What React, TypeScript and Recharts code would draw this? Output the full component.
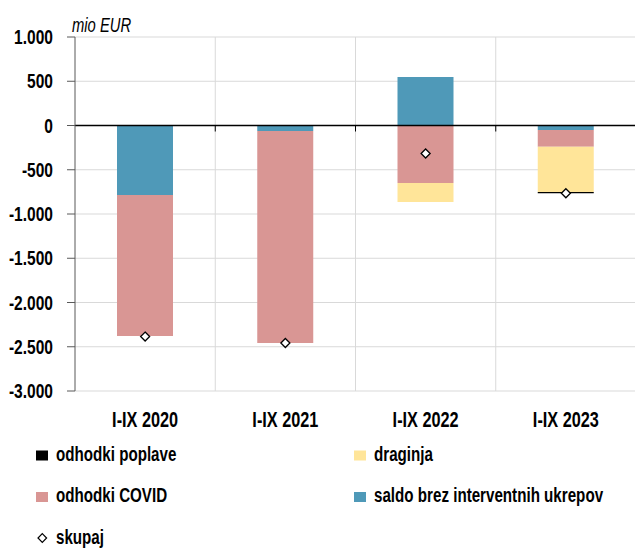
import React from 'react';
import { ComposedChart, Bar, Scatter, XAxis, YAxis, CartesianGrid, ReferenceLine } from 'recharts';

const categories = ['I-IX 2020', 'I-IX 2021', 'I-IX 2022', 'I-IX 2023'];
const saldo = [-785, -62, 548, -51];
const covid = [-1594, -2396, -650, -189];
const draginja = [0, 0, -214, -511];
const poplave = [0, 0, 0, -15];
const skupaj = [-2385, -2458, -316, -766];
const yTicks = [1000, 500, 0, -500, -1000, -1500, -2000, -2500, -3000];

const data = categories.map((name, i) => ({
  name,
  saldo: saldo[i],
  covid: covid[i],
  draginja: draginja[i],
  poplave: poplave[i],
  skupaj: skupaj[i],
}));

const FONT = '"Liberation Sans", Arial, sans-serif';
const SX = 0.74; // narrow the glyphs to look condensed

const formatTick = (v: number) => {
  const abs = Math.abs(v);
  const s = abs >= 1000 ? `${Math.floor(abs / 1000)}.${String(abs % 1000).padStart(3, '0')}` : String(abs);
  return v < 0 ? `-${s}` : s;
};

const NarrowText = ({ x, y, anchor = 'start', size = 21, italic = false, bold = true, children }: any) => (
  <g transform={`translate(${x},${y})`}>
    <text
      transform={`scale(${SX},1)`}
      textAnchor={anchor}
      fontSize={size}
      fontWeight={bold ? 'bold' : 'normal'}
      fontStyle={italic ? 'italic' : 'normal'}
      fontFamily={FONT}
      fill="#000"
    >
      {children}
    </text>
  </g>
);

const YTick = (props: any) => {
  const { x, y, payload } = props;
  return <NarrowText x={x} y={y + 7} anchor="end" size={21}>{formatTick(payload.value)}</NarrowText>;
};

const XTick = (props: any) => {
  const { x, y, payload } = props;
  return <NarrowText x={x} y={y + 36} anchor="middle" size={22}>{payload.value}</NarrowText>;
};

const Diamond = (props: any) => {
  const { cx, cy } = props;
  const r = 4.5;
  return (
    <path
      d={`M${cx},${cy - r}L${cx + r},${cy}L${cx},${cy + r}L${cx - r},${cy}Z`}
      fill="#fff"
      stroke="#000"
      strokeWidth={1.3}
    />
  );
};

const ZeroLine = (props: any) => {
  const { x1, y1, x2 } = props;
  const step = (x2 - x1) / categories.length;
  return (
    <g>
      <line x1={x1} y1={y1} x2={x2} y2={y1} stroke="#000" strokeWidth={1.3} />
      {[1, 2, 3].map((i) => (
        <line key={i} x1={x1 + step * i} y1={y1} x2={x1 + step * i} y2={y1 + 6} stroke="#000" strokeWidth={1} />
      ))}
    </g>
  );
};

const legendItems = [
  { label: 'odhodki poplave', color: '#000000', x: 36, y: 460.5 },
  { label: 'draginja', color: '#ffe599', x: 354, y: 460.5 },
  { label: 'odhodki COVID', color: '#d99694', x: 36, y: 502 },
  { label: 'saldo brez interventnih ukrepov', color: '#4f99b8', x: 354, y: 502 },
];

export default function App() {
  return (
    <div style={{ position: 'absolute', left: 0, top: 0, width: 635, height: 549, background: '#fff' }}>
      <ComposedChart
        width={636}
        height={431}
        data={data}
        stackOffset="sign"
        margin={{ top: 37, right: 0, left: 0, bottom: 0 }}
      >
        <CartesianGrid
          stroke="#d9d9d9"
          strokeWidth={1}
          verticalCoordinatesGenerator={({ offset }: any) =>
            [1, 2, 3, 4].map((i) => offset.left + (offset.width / 4) * i)
          }
        />
        <XAxis dataKey="name" axisLine={false} tickLine={false} tickSize={0} height={40} tickMargin={0} tick={<XTick />} />
        <YAxis
          domain={[-3000, 1000]}
          ticks={yTicks}
          interval={0}
          width={75}
          axisLine={{ stroke: '#595959' }}
          tickLine={{ stroke: '#595959' }}
          tickSize={8}
          tickMargin={14}
          tick={<YTick />}
        />
        <Bar dataKey="saldo" stackId="a" fill="#4f99b8" barSize={56} isAnimationActive={false} />
        <Bar dataKey="covid" stackId="a" fill="#d99694" barSize={56} isAnimationActive={false} />
        <Bar dataKey="draginja" stackId="a" fill="#ffe599" barSize={56} isAnimationActive={false} />
        <Bar dataKey="poplave" stackId="a" fill="#000000" barSize={56} isAnimationActive={false} />
        <ReferenceLine y={0} shape={<ZeroLine />} />
        <Scatter dataKey="skupaj" shape={<Diamond />} isAnimationActive={false} />
      </ComposedChart>
      <svg width={635} height={549} style={{ position: 'absolute', left: 0, top: 0, pointerEvents: 'none' }}>
        <NarrowText x={72} y={32} size={20} italic bold={false}>mio EUR</NarrowText>
        {legendItems.map((it) => (
          <g key={it.label}>
            <rect x={it.x} y={it.y - 10} width={12} height={10} fill={it.color} />
            <NarrowText x={it.x + 20} y={it.y} size={20.5}>{it.label}</NarrowText>
          </g>
        ))}
        <path d="M42.3,533.7L46.6,538L42.3,542.3L38,538Z" fill="#fff" stroke="#000" strokeWidth={1.2} />
        <NarrowText x={56} y={544} size={20.5}>skupaj</NarrowText>
      </svg>
    </div>
  );
}
